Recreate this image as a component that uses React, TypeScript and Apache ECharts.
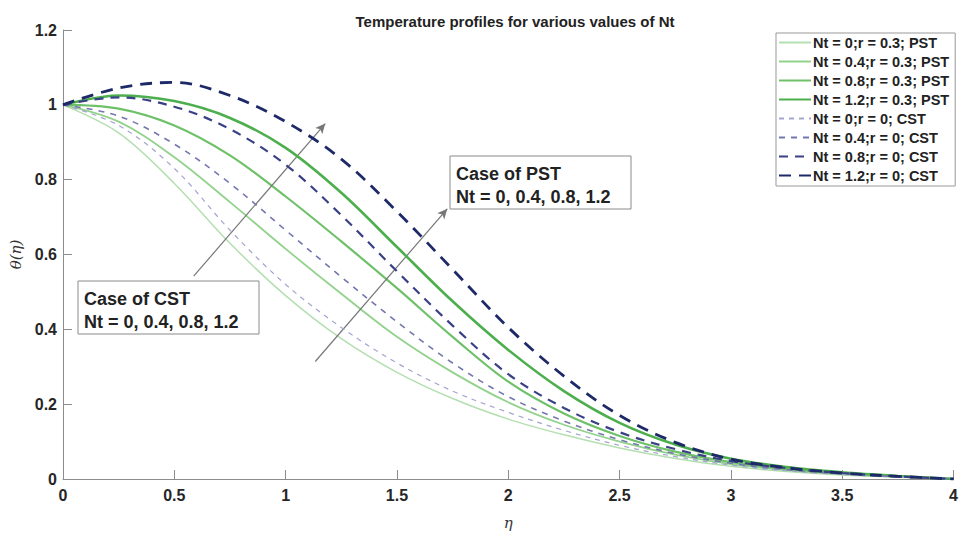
import React, { useEffect, useRef } from "react";
import * as echarts from "echarts";

const eta = [0, 0.25, 0.5, 0.75, 1, 1.25, 1.5, 1.75, 2, 2.25, 2.5, 2.75, 3, 3.25, 3.5, 3.75, 4];

const pst0 = [1, 0.925, 0.79, 0.63, 0.49, 0.375, 0.285, 0.215, 0.16, 0.118, 0.083, 0.055, 0.034, 0.02, 0.011, 0.005, 0];
const pst04 = [1, 0.955, 0.86, 0.74, 0.615, 0.495, 0.38, 0.285, 0.205, 0.145, 0.1, 0.065, 0.04, 0.024, 0.013, 0.006, 0];
const pst08 = [1, 0.99, 0.945, 0.865, 0.755, 0.635, 0.51, 0.38, 0.26, 0.175, 0.115, 0.073, 0.045, 0.027, 0.015, 0.007, 0];
const pst12 = [1, 1.025, 1.01, 0.965, 0.885, 0.765, 0.62, 0.475, 0.345, 0.235, 0.15, 0.092, 0.054, 0.032, 0.018, 0.008, 0];
const cst0 = [1, 0.945, 0.83, 0.665, 0.52, 0.405, 0.31, 0.235, 0.178, 0.13, 0.09, 0.06, 0.037, 0.022, 0.012, 0.005, 0];
const cst04 = [1, 0.97, 0.895, 0.79, 0.665, 0.54, 0.42, 0.31, 0.22, 0.155, 0.105, 0.068, 0.042, 0.025, 0.014, 0.006, 0];
const cst08 = [1, 1.02, 0.995, 0.935, 0.84, 0.705, 0.555, 0.41, 0.28, 0.19, 0.125, 0.08, 0.048, 0.029, 0.016, 0.007, 0];
const cst12 = [1, 1.045, 1.06, 1.025, 0.955, 0.855, 0.715, 0.56, 0.405, 0.275, 0.17, 0.098, 0.053, 0.03, 0.016, 0.007, 0];

const seriesNames = [
  "Nt = 0;r = 0.3; PST",
  "Nt = 0.4;r = 0.3; PST",
  "Nt = 0.8;r = 0.3; PST",
  "Nt = 1.2;r = 0.3; PST",
  "Nt = 0;r = 0; CST",
  "Nt = 0.4;r = 0; CST",
  "Nt = 0.8;r = 0; CST",
  "Nt = 1.2;r = 0; CST",
];
const seriesValues = [pst0, pst04, pst08, pst12, cst0, cst04, cst08, cst12];

const titleText = "Temperature profiles for various values of Nt";
const cstArrow = [[0.587, 0.542], [1.178, 0.95]];
const pstArrow = [[1.133, 0.314], [1.726, 0.722]];
const cstLabel = ["Case of CST", "Nt = 0, 0.4, 0.8, 1.2"];
const pstLabel = ["Case of PST", "Nt = 0, 0.4, 0.8, 1.2"];

const styles = [
  { color: "#b4dfb0", width: 1.5, type: "solid" as any },
  { color: "#92d28c", width: 1.8, type: "solid" as any },
  { color: "#6ec168", width: 2.2, type: "solid" as any },
  { color: "#4cae4c", width: 2.6, type: "solid" as any },
  { color: "#a4a4d0", width: 1.2, type: [5, 5] as any },
  { color: "#7476ae", width: 1.6, type: [6, 6] as any },
  { color: "#3a4086", width: 2.2, type: [9, 7] as any },
  { color: "#1e2a68", width: 2.8, type: [12, 8] as any },
];

const FONT = "Liberation Sans, Arial, sans-serif";

export default function App() {
  const ref = useRef<HTMLDivElement>(null);
  useEffect(() => {
    if (!ref.current) return;
    const chart = echarts.init(ref.current, undefined, { renderer: "svg" });
    const series: any[] = seriesValues.map((vals, i) => ({
      name: seriesNames[i],
      type: "line",
      data: eta.map((x, j) => [x, vals[j]]),
      smooth: 0.35,
      symbol: "none",
      showSymbol: false,
      lineStyle: styles[i],
      itemStyle: { color: styles[i].color },
      z: 2 + i,
    }));
    series.push({
      name: "arrows",
      type: "line",
      data: [],
      markLine: {
        silent: true,
        symbol: ["none", "arrow"],
        symbolSize: [7, 10],
        label: { show: false },
        lineStyle: { color: "#777", width: 1.2, type: "solid" },
        data: [
          [{ coord: cstArrow[0] }, { coord: cstArrow[1] }],
          [{ coord: pstArrow[0] }, { coord: pstArrow[1] }],
        ],
      },
      z: 20,
    });
    const boxText = (x: number, y: number, w: number, h: number, lines: string[]) => ({
      type: "group",
      z: 30,
      children: [
        { type: "rect", shape: { x, y, width: w, height: h }, style: { fill: "#fff", stroke: "#8a8a8a", lineWidth: 1 } },
        {
          type: "text",
          x: x + 6,
          y: y + 6,
          style: { text: lines.join("\n"), font: `bold 18px ${FONT}`, fill: "#222", lineHeight: 23 },
        },
      ],
    });
    chart.setOption({
      animation: false,
      backgroundColor: "#fff",
      title: {
        text: titleText,
        left: 510,
        textAlign: "center",
        top: 9,
        textStyle: { fontFamily: FONT, fontSize: 15, fontWeight: "bold", color: "#222" },
      },
      grid: { left: 60, right: 1, top: 30, bottom: 49 },
      legend: {
        data: seriesNames,
        orient: "vertical",
        left: 776,
        top: 33,
        padding: [2, 6, 3, 2],
        itemGap: 4,
        itemWidth: 32,
        itemHeight: 12,
        itemStyle: { opacity: 0 },
        backgroundColor: "#fff",
        borderColor: "#999",
        borderWidth: 1,
        borderRadius: 0,
        textStyle: { fontFamily: FONT, fontSize: 14.5, fontWeight: "bold", color: "#222", padding: [0, 0, 0, -3] },
      },
      xAxis: {
        type: "value",
        min: 0,
        max: 4,
        interval: 0.5,
        name: "η",
        nameLocation: "middle",
        nameGap: 36,
        nameTextStyle: { fontFamily: "DejaVu Serif, serif", fontStyle: "italic", fontSize: 15, color: "#333" },
        axisLine: { lineStyle: { color: "#8c8c8c", width: 1 } },
        axisTick: { inside: true, length: 9, lineStyle: { color: "#8c8c8c" } },
        axisLabel: { fontFamily: FONT, fontSize: 16, fontWeight: "bold", color: "#262626", margin: 8 },
        splitLine: { show: false },
      },
      yAxis: {
        type: "value",
        min: 0,
        max: 1.2,
        interval: 0.2,
        name: "θ(η)",
        nameLocation: "middle",
        nameGap: 40,
        nameRotate: 90,
        nameTextStyle: { fontFamily: "DejaVu Serif, serif", fontStyle: "italic", fontSize: 15, color: "#333" },
        axisLine: { show: true, lineStyle: { color: "#8c8c8c", width: 1 } },
        axisTick: { show: true, inside: true, length: 9, lineStyle: { color: "#8c8c8c" } },
        axisLabel: { fontFamily: FONT, fontSize: 16, fontWeight: "bold", color: "#262626", margin: 6 },
        splitLine: { show: false },
      },
      series,
      graphic: [boxText(78, 281, 181, 53, cstLabel), boxText(450, 156, 181, 53, pstLabel)],
    });
    return () => chart.dispose();
  }, []);
  return <div ref={ref} style={{ width: 961, height: 535, position: "absolute", left: 0, top: 0 }} />;
}
